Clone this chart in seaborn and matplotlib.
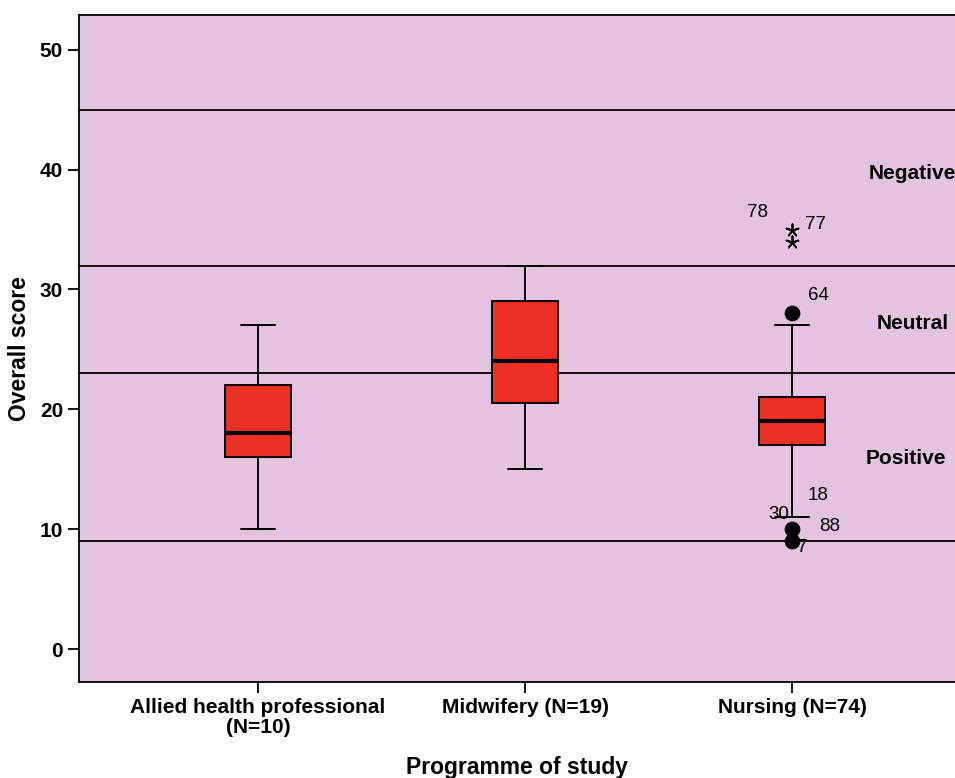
import matplotlib
matplotlib.use('Agg')
import numpy as np
import pandas as pd
import seaborn as sns
import matplotlib.pyplot as plt

# box statistics
programmes = ['Allied health professional\n(N=10)', 'Midwifery (N=19)', 'Nursing (N=74)']
whisker_low = [10, 15, 11]
q1 = [16, 20.5, 17]
median = [18, 24, 19]
q3 = [22, 29, 21]
whisker_high = [27, 32, 27]

# outliers (circles) and extremes (stars), all in Nursing
outlier_values = [28, 10, 9]
extreme_values = [35, 34]

# case labels and where they sit (x offset from Nursing, score)
case_labels = ['64', '78', '77', '18', '30', '88', '7']
case_dx = [0.06, -0.17, 0.05, 0.06, -0.09, 0.10, 0.02]
case_y = [29.5, 36.4, 35.4, 12.8, 11.2, 10.2, 8.5]

# category boundaries and band labels
boundaries = [45, 32, 23, 9]
band_names = ['Negative', 'Neutral', 'Positive']
band_y = [39.7, 27.2, 15.9]
band_right = [2.615, 2.585, 2.578]

BG = '#e3c3df'
RED = '#ee3024'

sns.set_style('ticks')
plt.rcParams.update({
    'font.family': ['Liberation Sans', 'DejaVu Sans'],
    'text.color': 'black',
    'axes.labelcolor': 'black',
    'xtick.color': 'black',
    'ytick.color': 'black',
    'axes.edgecolor': 'black',
    'axes.linewidth': 1.3,
    'xtick.major.size': 8,
    'ytick.major.size': 8,
    'xtick.major.width': 1.3,
    'ytick.major.width': 1.3,
})

fig = plt.figure(figsize=(9.55, 7.78), dpi=100)
ax = fig.add_axes([0.0827, 0.1234, 0.9173, 0.8573])
ax.set_facecolor(BG)

for yv in boundaries:
    ax.axhline(yv, color='black', lw=1.3, zorder=1)

stats = []
for i, name in enumerate(programmes):
    stats.append({
        'label': name, 'med': median[i], 'q1': q1[i], 'q3': q3[i],
        'whislo': whisker_low[i], 'whishi': whisker_high[i], 'fliers': [],
    })
ax.bxp(stats, positions=range(len(programmes)), widths=0.25, capwidths=0.13,
       patch_artist=True, showfliers=False,
       boxprops=dict(facecolor=RED, edgecolor='black', linewidth=1.4),
       medianprops=dict(color='black', linewidth=3),
       whiskerprops=dict(color='black', linewidth=1.4),
       capprops=dict(color='black', linewidth=1.4), zorder=3)

out_df = pd.DataFrame({'x': [2] * len(outlier_values), 'score': outlier_values})
ext_df = pd.DataFrame({'x': [2] * len(extreme_values), 'score': extreme_values})
sns.scatterplot(data=out_df, x='x', y='score', ax=ax, color='black', s=110,
                edgecolor='black', zorder=4, legend=False)
sns.scatterplot(data=ext_df, x='x', y='score', ax=ax, color='black', s=80,
                marker=(5, 2), linewidth=1.3, zorder=4, legend=False)

for lab, dx, yv in zip(case_labels, case_dx, case_y):
    ax.text(2 + dx, yv, lab, fontsize=13.5, ha='left', va='center', zorder=5)

for name, xr, yv in zip(band_names, band_right, band_y):
    ax.text(xr, yv, name, fontsize=15, fontweight='bold', ha='right', va='center')

ax.set_xlim(-0.67, 2.61)
ax.set_ylim(-2.75, 52.9)
ax.set_xticks(range(len(programmes)))
ax.set_xticklabels(programmes, fontsize=15, fontweight='bold', linespacing=1.1)
ax.set_yticks([0, 10, 20, 30, 40, 50])
ax.set_yticklabels(['0', '10', '20', '30', '40', '50'], fontsize=15, fontweight='bold')
ax.set_xlabel('Programme of study', fontsize=16.5, fontweight='bold', labelpad=13)
ax.set_ylabel('Overall score', fontsize=16.5, fontweight='bold', labelpad=6)
ax.spines['right'].set_visible(False)

fig.savefig('out.png', dpi=100)
